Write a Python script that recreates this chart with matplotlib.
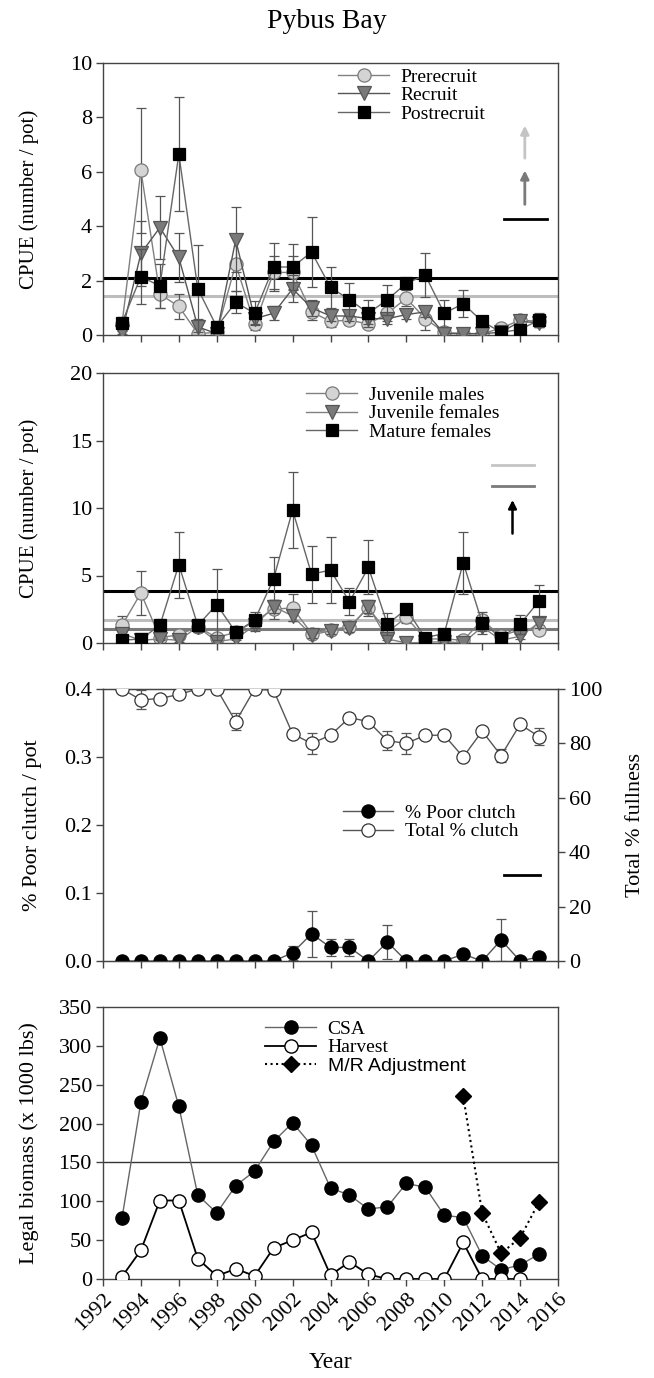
import numpy as np
import matplotlib
matplotlib.use("Agg")
from matplotlib import pyplot as plt

plt.rcParams['font.family'] = ['Liberation Serif', 'DejaVu Serif']

# ---------------- data ----------------
years = list(range(1993, 2016))

prerecruit = [0.4, 6.05, 1.5, 1.05, 0.05, 0.1, 2.6, 0.4, 2.3, 2.3, 0.85, 0.5, 0.55,
              0.4, 0.8, 1.35, 0.6, 0.1, 0.05, 0.05, 0.25, 0.55, 0.5]
prerecruit_se = [0.1, 2.3, 0.5, 0.45, 0.05, 0.05, 1.0, 0.2, 0.6, 0.6, 0.3, 0.2, 0.2,
                 0.15, 0.3, 0.3, 0.4, 0.05, 0.05, 0.05, 0.1, 0.2, 0.2]
recruit = [0.1, 3.0, 3.95, 2.85, 0.3, 0.05, 3.5, 0.6, 0.8, 1.7, 1.0, 0.7, 0.7,
           0.6, 0.6, 0.75, 0.85, 0.05, 0.05, 0.05, 0.1, 0.5, 0.45]
recruit_se = [0.05, 1.2, 1.15, 0.9, 0.3, 0.05, 1.2, 0.2, 0.25, 0.5, 0.3, 0.2, 0.2,
              0.2, 0.2, 0.15, 0.2, 0.05, 0.05, 0.05, 0.05, 0.15, 0.15]
postrecruit = [0.45, 2.15, 1.8, 6.65, 1.7, 0.3, 1.2, 0.8, 2.5, 2.5, 3.05, 1.75, 1.3,
               0.8, 1.3, 1.9, 2.2, 0.8, 1.15, 0.5, 0.1, 0.2, 0.55]
postrecruit_se = [0.2, 1.0, 0.8, 2.1, 1.6, 0.2, 0.4, 0.45, 0.9, 0.85, 1.3, 0.75, 0.6,
                  0.5, 0.55, 0.2, 0.8, 0.5, 0.5, 0.2, 0.1, 0.2, 0.25]

juv_males = [1.3, 3.7, 0.4, 0.6, 1.2, 0.4, 0.8, 1.6, 2.5, 2.6, 0.7, 1.0, 1.2,
             2.6, 0.8, 1.9, 0.3, 0.3, 0.2, 1.7, 0.5, 1.0, 1.0]
juv_males_se = [0.7, 1.6, 0.2, 0.3, 0.3, 0.2, 0.3, 0.4, 0.7, 1.0, 0.2, 0.2, 0.3,
                0.6, 0.2, 0.4, 0.1, 0.1, 0.1, 0.4, 0.2, 0.3, 0.3]
juv_females = [0.7, 0.2, 0.3, 0.2, 1.2, 0.1, 0.3, 1.3, 2.7, 2.0, 0.6, 0.9, 1.1,
               2.7, 0.3, 0.0, 0.05, 0.1, 0.0, 1.2, 0.2, 0.5, 1.5]
juv_females_se = [0.2, 0.1, 0.1, 0.1, 0.3, 0.1, 0.1, 0.4, 0.5, 0.4, 0.2, 0.2, 0.3,
                  0.5, 0.1, 0.0, 0.05, 0.05, 0.0, 0.3, 0.1, 0.2, 0.4]
mat_females = [0.2, 0.3, 1.3, 5.8, 1.3, 2.85, 0.8, 1.7, 4.75, 9.85, 5.1, 5.4, 3.05,
               5.6, 1.4, 2.5, 0.4, 0.7, 5.95, 1.5, 0.4, 1.4, 3.1]
mat_females_se = [0.1, 0.1, 0.5, 2.45, 0.5, 2.6, 0.4, 0.6, 1.6, 2.8, 2.1, 2.45, 1.0,
                  2.0, 0.8, 0.2, 0.2, 0.3, 2.3, 0.8, 0.3, 0.7, 1.2]

poor_clutch = [0, 0, 0, 0, 0, 0, 0, 0, 0, 0.012, 0.04, 0.02, 0.02,
               0, 0.028, 0, 0, 0, 0.01, 0, 0.031, 0, 0.006]
poor_clutch_se = [0, 0, 0, 0, 0, 0, 0, 0, 0, 0.01, 0.034, 0.012, 0.012,
                  0, 0.025, 0, 0, 0, 0.005, 0, 0.031, 0, 0.002]
total_clutch = [100, 96, 96.5, 98, 100, 100, 88, 100, 99.5, 83.5, 80, 83, 89.5,
                88, 81, 80, 83, 83, 75, 84.5, 75.5, 87, 82.5]
total_clutch_se = [0, 3.5, 0.8, 0.5, 0, 0, 3, 0, 0, 1.5, 4, 0.8, 0.5,
                   0.5, 3.5, 4, 1.5, 1.5, 0.5, 1, 2.5, 1, 3]

csa = [78, 228, 310, 222, 108, 85, 120, 139, 177, 201, 172, 117, 108,
       90, 93, 123, 118, 82, 79, 30, 12, 18, 32]
harvest_years = list(range(1993, 2015))
harvest = [3, 37, 101, 101, 26, 4, 13, 4, 40, 50, 60, 5, 22,
           6, 0, 0, 0, 0, 47, 0, 0, 0]
mr_years = [2011, 2012, 2013, 2014, 2015]
mr_adjust = [235, 85, 33, 53, 99]

# ---------------- style ----------------
W, H = 654, 1378
fig = plt.figure(figsize=(W / 100, H / 100), dpi=100)

LGRAY = '#d4d4d4'
MGRAY = '#7a7a7a'
LINE = '#555555'
AX = '#444444'
TICK_FS = 16
LAB_FS = 15
LEG_FS = 14


def pos(top, bottom):
    return [103 / W, 1 - bottom / H, (558 - 103) / W, (bottom - top) / H]


def style_axes(ax, ylim, yticks, show_x=False):
    ax.set_xlim(1992, 2016)
    ax.set_ylim(*ylim)
    ax.set_yticks(yticks)
    ax.set_xticks(range(1992, 2017, 2))
    for s in ax.spines.values():
        s.set_color(AX)
        s.set_linewidth(1.0)
    ax.tick_params(direction='out', length=5, width=1, color=AX,
                   labelsize=TICK_FS, pad=3)
    if show_x:
        ax.set_xticklabels([str(y) for y in range(1992, 2017, 2)],
                           rotation=45, ha='right', rotation_mode='anchor')
    else:
        ax.set_xticklabels([])


def series(ax, x, y, err, marker, fc, ec, lc, ms, label, z):
    ax.errorbar(x, y, yerr=err, fmt='none', ecolor=LINE, elinewidth=0.9,
                capsize=3.5, capthick=0.9, zorder=z)
    ax.plot(x, y, '-', color=lc, lw=1.0, marker=marker, ms=ms,
            mfc=fc, mec=ec, mew=0.9, label=label, zorder=z + 0.5)


# ---------------- panel 1 ----------------
ax1 = fig.add_axes(pos(63, 335))
ax1.axhline(2.1, color='black', lw=2.2, zorder=1)
ax1.axhline(1.45, color='#bdbdbd', lw=2.2, zorder=1)
series(ax1, years, prerecruit, prerecruit_se, 'o', LGRAY, MGRAY, '#808080', 9.5, 'Prerecruit', 2)
series(ax1, years, recruit, recruit_se, 'v', MGRAY, '#555555', '#555555', 10, 'Recruit', 3)
series(ax1, years, postrecruit, postrecruit_se, 's', 'black', 'black', '#666666', 9, 'Postrecruit', 4)
ax1.annotate('', xy=(2014.25, 7.8), xytext=(2014.25, 6.4),
             arrowprops=dict(arrowstyle='-|>', color='#c4c4c4', lw=2, mutation_scale=12))
ax1.annotate('', xy=(2014.25, 6.15), xytext=(2014.25, 4.7),
             arrowprops=dict(arrowstyle='-|>', color=MGRAY, lw=2, mutation_scale=12))
ax1.plot([2013.15, 2015.4], [4.25, 4.25], color='black', lw=2)
style_axes(ax1, (0, 10), range(0, 11, 2))
ax1.set_ylabel('CPUE (number / pot)', fontsize=LAB_FS, labelpad=22)
ax1.legend(loc='upper left', bbox_to_anchor=(0.5, 1.01), frameon=False,
           fontsize=LEG_FS, handlelength=2.6, handletextpad=0.6,
           labelspacing=0.05, borderaxespad=0)

# ---------------- panel 2 ----------------
ax2 = fig.add_axes(pos(373, 643))
ax2.axhline(3.85, color='black', lw=2.2, zorder=1)
ax2.axhline(1.7, color='#bdbdbd', lw=2.2, zorder=1)
ax2.axhline(1.05, color=MGRAY, lw=2.2, zorder=1)
series(ax2, years, juv_males, juv_males_se, 'o', LGRAY, MGRAY, '#808080', 9.5, 'Juvenile males', 2)
series(ax2, years, juv_females, juv_females_se, 'v', MGRAY, '#555555', '#808080', 10, 'Juvenile females', 3)
series(ax2, years, mat_females, mat_females_se, 's', 'black', 'black', '#666666', 9, 'Mature females', 4)
ax2.plot([2012.5, 2014.75], [13.15, 13.15], color='#c4c4c4', lw=2)
ax2.plot([2012.5, 2014.75], [11.6, 11.6], color=MGRAY, lw=2)
ax2.annotate('', xy=(2013.6, 10.8), xytext=(2013.6, 7.9),
             arrowprops=dict(arrowstyle='-|>', color='black', lw=1.8, mutation_scale=12))
style_axes(ax2, (0, 20), range(0, 21, 5))
ax2.set_ylabel('CPUE (number / pot)', fontsize=LAB_FS, labelpad=22)
ax2.legend(loc='upper left', bbox_to_anchor=(0.43, 0.98), frameon=False,
           fontsize=LEG_FS, handlelength=2.6, handletextpad=0.6,
           labelspacing=0.05, borderaxespad=0)

# ---------------- panel 3 ----------------
ax3 = fig.add_axes(pos(689, 961))
ax3r = ax3.twinx()
series(ax3, years, poor_clutch, poor_clutch_se, 'o', 'black', 'black', '#555555', 9.5, '% Poor clutch', 3)
series(ax3r, years, total_clutch, total_clutch_se, 'o', 'white', '#333333', '#555555', 9.5, 'Total % clutch', 3)
ax3.plot([2013.15, 2015.05], [0.127, 0.127], color='black', lw=2)
style_axes(ax3, (0, 0.4), np.arange(0, 0.41, 0.1))
ax3.set_yticklabels(['0.0', '0.1', '0.2', '0.3', '0.4'])
ax3r.set_ylim(0, 100)
ax3r.set_yticks(range(0, 101, 20))
for s in ax3r.spines.values():
    s.set_color(AX)
ax3r.tick_params(direction='out', length=5, width=1, color=AX, labelsize=TICK_FS, pad=3)
ax3.set_ylabel('% Poor clutch / pot', fontsize=LAB_FS + 1, labelpad=16)
ax3r.set_ylabel('Total % fullness', fontsize=LAB_FS + 1, labelpad=17, rotation=90)
h1, l1 = ax3.get_legend_handles_labels()
h2, l2 = ax3r.get_legend_handles_labels()
ax3r.legend(h1 + h2, l1 + l2, loc='upper left', bbox_to_anchor=(0.51, 0.605),
            frameon=False, fontsize=LEG_FS, handlelength=2.6, handletextpad=0.6,
            labelspacing=0.05, borderaxespad=0)

# ---------------- panel 4 ----------------
ax4 = fig.add_axes(pos(1007, 1279))
ax4.axhline(150, color='#333333', lw=1.0, zorder=1)
ax4.plot(years, csa, '-', color='#666666', lw=1.0, marker='o', ms=9.5,
         mfc='black', mec='black', label='CSA', zorder=3)
ax4.plot(harvest_years, harvest, '-', color='black', lw=1.3, marker='o', ms=9.5,
         mfc='white', mec='black', mew=1.0, label='Harvest', zorder=4)
ax4.plot(mr_years, mr_adjust, ':', color='black', lw=1.5, marker='D', ms=8.5,
         mfc='black', mec='black', label='M/R Adjustment', zorder=5)
style_axes(ax4, (0, 350), range(0, 351, 50), show_x=True)
ax4.set_ylabel('Legal biomass (x 1000 lbs)', fontsize=LAB_FS + 1, labelpad=14)
ax4.set_xlabel('Year', fontsize=17, labelpad=12)
leg = ax4.legend(loc='upper left', bbox_to_anchor=(0.34, 0.98), frameon=False,
                 fontsize=LEG_FS, handlelength=2.6, handletextpad=0.6,
                 labelspacing=0.05, borderaxespad=0)
leg.get_texts()[2].set_family(['Liberation Sans', 'DejaVu Sans'])

fig.text(0.5, 1 - 22 / H, 'Pybus Bay', ha='center', va='center', fontsize=20)

fig.savefig('out.png', dpi=100)
